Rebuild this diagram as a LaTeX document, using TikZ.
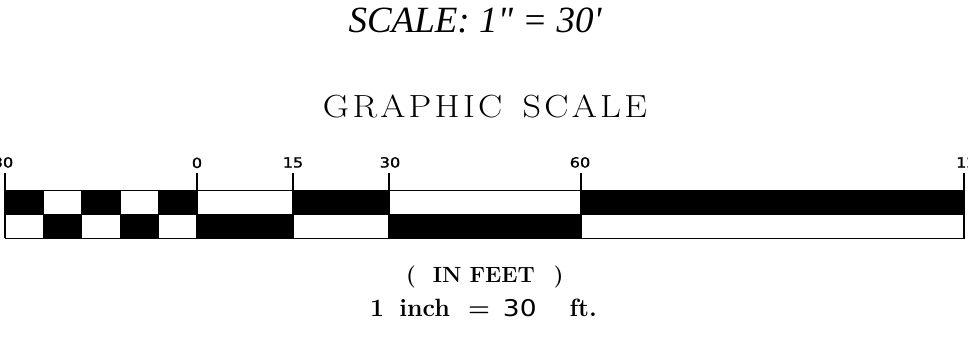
\documentclass[tikz,border=0pt]{standalone}
\usepackage{fontspec}
\newfontfamily\timesf{Liberation Serif}[Ligatures=TeXOff]
\newfontfamily\dvs{DejaVu Sans}
\newfontfamily\dvsb{DejaVu Sans}[FakeBold=1.2]
\newcommand{\lsp}{\kern2.9pt}
\begin{document}
\begin{tikzpicture}[x=1pt,y=-1pt,
  cellb/.style={fill=black,draw=black,line width=0.8pt},
  cellw/.style={fill=white,draw=black,line width=0.8pt},
  tickline/.style={draw=black,line width=1.5pt},
  lbl/.style={anchor=base,inner sep=0pt,font=\dvsb\fontsize{14}{14}\selectfont,xscale=1.15},
  txt/.style={inner sep=0pt}
]
\useasboundingbox (0,0) rectangle (968,346);
% checker section
\foreach \i in {0,...,4}{
  \pgfmathsetmacro{\xa}{5+38.4*\i}
  \pgfmathsetmacro{\xb}{5+38.4*(\i+1)}
  \ifodd\i
    \path[cellw] (\xa,190) rectangle (\xb,214);
    \path[cellb] (\xa,214) rectangle (\xb,238);
  \else
    \path[cellb] (\xa,190) rectangle (\xb,214);
    \path[cellw] (\xa,214) rectangle (\xb,238);
  \fi
}
\path[cellw] (197,190) rectangle (293,214);
\path[cellb] (197,214) rectangle (293,238);
\path[cellb] (293,190) rectangle (389,214);
\path[cellw] (293,214) rectangle (389,238);
\path[cellw] (389,190) rectangle (581,214);
\path[cellb] (389,214) rectangle (581,238);
\path[cellb] (581,190) rectangle (964,214);
\path[cellw] (581,214) rectangle (964,238);
\foreach \x in {5,197,293,389,581,964}
  \draw[tickline] (\x,173) -- (\x,238);
% scale labels
\node[lbl] (lm30) at (3,167.5) {30};
\node[lbl] (l0) at (197,168) {0};
\node[lbl] (l15) at (293,167.5) {15};
\node[lbl] (l30) at (390,167.5) {30};
\node[lbl] (l60) at (580,167.5) {60};
\node[lbl,anchor=base west] (l120) at (956,167.5) {120};
% titles
\node[txt,anchor=base,font=\timesf\itshape\fontsize{37}{40}\selectfont] (scale) at (475,32) {SCALE: 1" = 30'};
\node[txt,anchor=base,font=\fontsize{32}{36}\selectfont] (graphic) at (485,117) {\scalebox{1.13}[1]{G\lsp R\lsp A\lsp P\lsp H\lsp I\lsp C\hspace{18pt}S\lsp C\lsp A\lsp L\lsp E}};
\node[txt,anchor=base west,font=\bfseries\fontsize{22}{24}\selectfont] (infeet) at (406,282) {(\hspace{17pt}IN FEET\hspace{19pt})};
\node[txt,anchor=base west,font=\bfseries\fontsize{25}{28}\selectfont] (inch) at (370,316) {1\hspace{15pt}inch\hspace{18pt}=\hspace{13pt}{\dvs\mdseries\fontsize{23}{24}\selectfont\scalebox{1.15}[1]{30}}\hspace{33pt}ft.};
\end{tikzpicture}
\end{document}
